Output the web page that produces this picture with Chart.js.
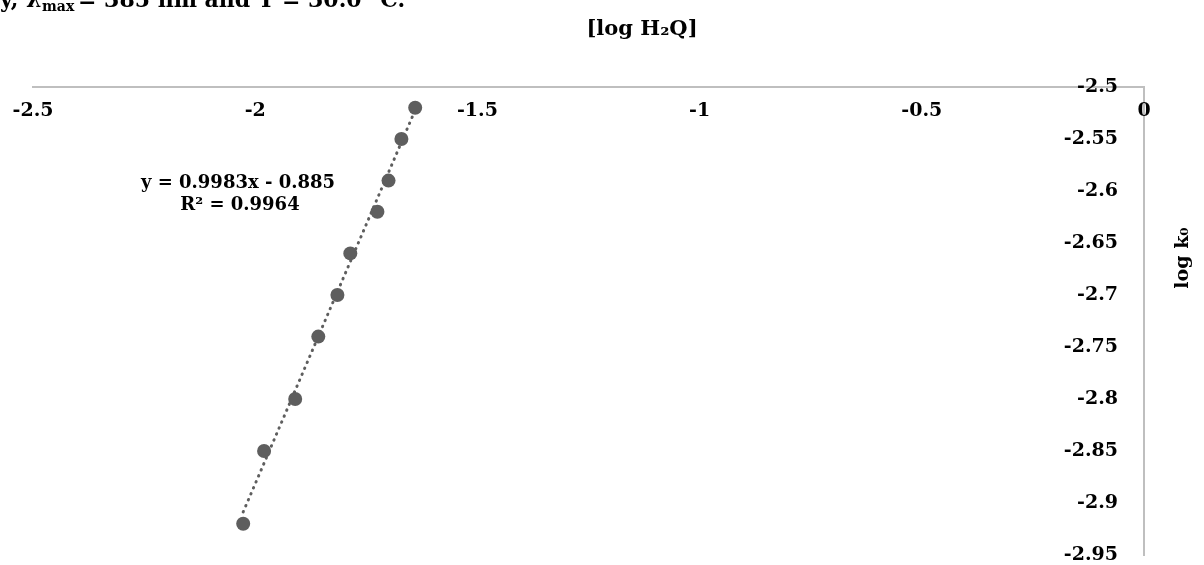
<!DOCTYPE html>
<html>
<head>
<meta charset="utf-8">
<title>log k0 vs log H2Q</title>
<script src="https://cdn.jsdelivr.net/npm/chart.js@4/dist/chart.umd.min.js"></script>
<style>
  html, body { margin: 0; padding: 0; background: #fff; }
  #wrap { position: relative; width: 1204px; height: 565px; }
</style>
</head>
<body>
<div id="wrap"><canvas id="chart"></canvas></div>
<script>
// Data
const logH2Q = [-1.64, -1.671, -1.70, -1.725, -1.786, -1.815, -1.858, -1.91, -1.98, -2.027];
const logK0 = [-2.52, -2.55, -2.59, -2.62, -2.66, -2.70, -2.74, -2.80, -2.85, -2.92];

// Linear trendline as printed on the chart
const SLOPE = 0.9983;
const INTERCEPT = -0.885;
const EQ_TEXT = "y = 0.9983x - 0.885";
const R2_TEXT = "R\u00B2 = 0.9964";

const X_TITLE = "[log H\u2082Q]";
const Y_TITLE = "log k\u2080";

const X_MIN = -2.5, X_MAX = 0, X_STEP = 0.5;
const Y_MIN = -2.95, Y_MAX = -2.5, Y_STEP = 0.05;

const GREY_MARK = "#5e5e5e";
const AXIS_GREY = "#bfbfbf";
const FONT = "'DejaVu Serif', 'Liberation Serif', serif";
const TICK_FONT = "bold 19px " + FONT;

const points = logH2Q.map((x, i) => ({ x: x, y: logK0[i] }));
const xLo = Math.min(...logH2Q), xHi = Math.max(...logH2Q);
const trend = [
  { x: xLo, y: SLOPE * xLo + INTERCEPT },
  { x: xHi, y: SLOPE * xHi + INTERCEPT }
];

function fmt(v) {
  return String(Number(v.toFixed(2)));
}

// x tick labels sit under the top axis line, Chart.js clips them there, so draw them here
const textPlugin = {
  id: "texts",
  afterDraw(chart) {
    const ctx = chart.ctx;
    const xs = chart.scales.x;
    ctx.save();
    ctx.fillStyle = "#000";

    // x tick labels
    ctx.font = TICK_FONT;
    ctx.textAlign = "center";
    ctx.textBaseline = "middle";
    xs.ticks.forEach(t => {
      ctx.fillText(fmt(t.value), xs.getPixelForValue(t.value), chart.chartArea.top + 24);
    });

    // cut-off caption line from the page above the figure
    ctx.textAlign = "left";
    ctx.textBaseline = "alphabetic";
    ctx.font = "bold 22px " + FONT;
    ctx.fillText("y, \u03BB", 0, 7);
    ctx.font = "bold 14px " + FONT;
    ctx.fillText("max", 42, 11);
    ctx.font = "bold 22px " + FONT;
    ctx.fillText("= 385 nm and T = 30.0 \u00B0C.", 78, 7);

    ctx.textBaseline = "middle";
    ctx.textAlign = "center";
    ctx.font = "bold 21px " + FONT;
    ctx.fillText(X_TITLE, 642, 30);

    ctx.font = "bold 18px " + FONT;
    ctx.fillText(EQ_TEXT, 238, 183);
    ctx.fillText(R2_TEXT, 240, 205);

    ctx.font = "bold 19px " + FONT;
    ctx.translate(1183, 258);
    ctx.rotate(-Math.PI / 2);
    ctx.fillText(Y_TITLE, 0, 0);
    ctx.restore();
  }
};

new Chart(document.getElementById("chart"), {
  type: "scatter",
  data: {
    datasets: [
      {
        label: "trend",
        type: "line",
        data: trend,
        borderColor: GREY_MARK,
        borderWidth: 3,
        borderDash: [0.5, 6],
        borderCapStyle: "round",
        pointRadius: 0,
        fill: false,
        order: 2
      },
      {
        label: "log k0",
        data: points,
        backgroundColor: GREY_MARK,
        borderColor: GREY_MARK,
        pointRadius: 7,
        pointBorderWidth: 0,
        order: 1
      }
    ]
  },
  options: {
    responsive: true,
    maintainAspectRatio: false,
    animation: false,
    layout: { padding: { left: 33, right: 60, top: 87, bottom: 10 } },
    plugins: {
      legend: { display: false },
      tooltip: { enabled: false }
    },
    scales: {
      x: {
        type: "linear",
        position: "top",
        min: X_MIN,
        max: X_MAX,
        afterFit(scale) { scale.height = 0; },
        grid: { display: false, drawTicks: false },
        border: { display: true, color: AXIS_GREY, width: 2 },
        ticks: { stepSize: X_STEP, display: false }
      },
      y: {
        type: "linear",
        position: "right",
        min: Y_MIN,
        max: Y_MAX,
        afterFit(scale) { scale.width = 0; },
        grid: { display: false, drawTicks: false },
        border: { display: true, color: AXIS_GREY, width: 2 },
        ticks: {
          stepSize: Y_STEP,
          mirror: true,
          padding: -26,
          color: "#000",
          font: { family: FONT, size: 19, weight: "bold" },
          callback: v => fmt(v)
        }
      }
    }
  },
  plugins: [textPlugin]
});
</script>
</body>
</html>
